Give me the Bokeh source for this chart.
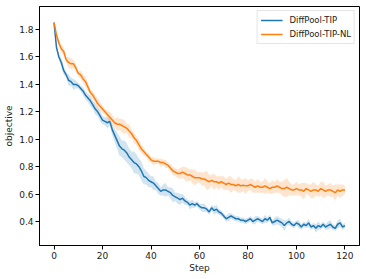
from bokeh.plotting import figure
from bokeh.models import ColumnDataSource, FixedTicker, Range1d, Legend, LegendItem
from bokeh.embed import file_html
from bokeh.resources import INLINE

steps = list(range(121))

tip_mean = [1.85, 1.67, 1.60, 1.56, 1.50, 1.47, 1.43, 1.42, 1.40, 1.40,
            1.39, 1.37, 1.35, 1.32, 1.30, 1.28, 1.25, 1.22, 1.20, 1.17,
            1.14, 1.13, 1.12, 1.13, 1.07, 1.03, 0.99, 0.95, 0.93, 0.92,
            0.90, 0.87, 0.85, 0.83, 0.82, 0.80, 0.77, 0.73, 0.72, 0.70,
            0.69, 0.68, 0.66, 0.64, 0.62, 0.63, 0.63, 0.62, 0.61, 0.59,
            0.58, 0.57, 0.56, 0.57, 0.55, 0.54, 0.52, 0.53, 0.52, 0.53,
            0.51, 0.50, 0.50, 0.49, 0.47, 0.50, 0.48, 0.49, 0.47, 0.46,
            0.44, 0.42, 0.43, 0.44, 0.43, 0.42, 0.42, 0.41, 0.41, 0.40,
            0.41, 0.42, 0.40, 0.41, 0.42, 0.41, 0.40, 0.42, 0.41, 0.43,
            0.39, 0.40, 0.41, 0.40, 0.39, 0.37, 0.39, 0.40, 0.38, 0.37,
            0.39, 0.38, 0.36, 0.38, 0.37, 0.39, 0.36, 0.37, 0.35, 0.37,
            0.36, 0.38, 0.36, 0.37, 0.38, 0.36, 0.35, 0.38, 0.39, 0.36,
            0.37]

tip_err = [0.01, 0.02, 0.02, 0.03, 0.03, 0.02, 0.04, 0.03, 0.04, 0.03,
           0.02, 0.02, 0.03, 0.03, 0.03, 0.04, 0.03, 0.04, 0.03, 0.04,
           0.03, 0.03, 0.04, 0.03, 0.04, 0.05, 0.06, 0.07, 0.06, 0.07,
           0.07, 0.06, 0.06, 0.08, 0.07, 0.06, 0.07, 0.06, 0.05, 0.05,
           0.04, 0.05, 0.03, 0.04, 0.03, 0.04, 0.05, 0.03, 0.04, 0.05,
           0.03, 0.04, 0.04, 0.03, 0.03, 0.02, 0.03, 0.03, 0.02, 0.02,
           0.02, 0.03, 0.03, 0.02, 0.02, 0.02, 0.03, 0.03, 0.02, 0.02,
           0.02, 0.02, 0.03, 0.02, 0.02, 0.02, 0.02, 0.02, 0.02, 0.02,
           0.02, 0.02, 0.02, 0.03, 0.02, 0.02, 0.02, 0.03, 0.02, 0.02,
           0.02, 0.03, 0.03, 0.03, 0.03, 0.04, 0.02, 0.03, 0.02, 0.02,
           0.02, 0.03, 0.02, 0.02, 0.02, 0.03, 0.02, 0.02, 0.03, 0.03,
           0.02, 0.02, 0.02, 0.03, 0.03, 0.02, 0.02, 0.03, 0.03, 0.02,
           0.02]

nl_mean = [1.85, 1.76, 1.70, 1.66, 1.64, 1.58, 1.56, 1.55, 1.55, 1.52,
           1.48, 1.47, 1.44, 1.42, 1.38, 1.34, 1.32, 1.29, 1.26, 1.24,
           1.22, 1.20, 1.18, 1.16, 1.14, 1.12, 1.11, 1.11, 1.10, 1.09,
           1.08, 1.06, 1.04, 1.01, 0.99, 0.96, 0.93, 0.91, 0.89, 0.87,
           0.85, 0.84, 0.84, 0.84, 0.83, 0.83, 0.82, 0.81, 0.79, 0.77,
           0.76, 0.75, 0.75, 0.76, 0.75, 0.74, 0.74, 0.73, 0.72, 0.72,
           0.72, 0.71, 0.71, 0.70, 0.69, 0.70, 0.69, 0.69, 0.68, 0.69,
           0.68, 0.67, 0.68, 0.67, 0.67, 0.66, 0.67, 0.66, 0.665, 0.66,
           0.66, 0.67, 0.66, 0.65, 0.66, 0.65, 0.65, 0.66, 0.65, 0.64,
           0.65, 0.65, 0.66, 0.65, 0.64, 0.64, 0.65, 0.64, 0.63, 0.63,
           0.64, 0.63, 0.63, 0.62, 0.64, 0.63, 0.62, 0.63, 0.63, 0.62,
           0.64, 0.63, 0.62, 0.63, 0.63, 0.62, 0.61, 0.63, 0.62, 0.63,
           0.63]

nl_err = [0.01, 0.02, 0.03, 0.03, 0.03, 0.02, 0.04, 0.04, 0.03, 0.03,
          0.02, 0.03, 0.03, 0.04, 0.03, 0.02, 0.03, 0.03, 0.04, 0.03,
          0.03, 0.02, 0.03, 0.04, 0.04, 0.03, 0.05, 0.04, 0.05, 0.05,
          0.03, 0.05, 0.03, 0.04, 0.03, 0.04, 0.03, 0.03, 0.02, 0.03,
          0.02, 0.03, 0.02, 0.02, 0.03, 0.02, 0.03, 0.02, 0.03, 0.03,
          0.03, 0.03, 0.04, 0.04, 0.05, 0.05, 0.04, 0.05, 0.06, 0.04,
          0.04, 0.05, 0.05, 0.07, 0.05, 0.04, 0.06, 0.04, 0.05, 0.04,
          0.05, 0.04, 0.05, 0.06, 0.04, 0.04, 0.06, 0.05, 0.04, 0.06,
          0.04, 0.04, 0.05, 0.04, 0.05, 0.04, 0.04, 0.06, 0.04, 0.04,
          0.05, 0.04, 0.05, 0.04, 0.05, 0.06, 0.07, 0.05, 0.04, 0.04,
          0.05, 0.04, 0.05, 0.06, 0.04, 0.04, 0.05, 0.06, 0.04, 0.04,
          0.05, 0.06, 0.04, 0.04, 0.05, 0.04, 0.06, 0.04, 0.05, 0.04,
          0.03]

x_ticks = [0, 20, 40, 60, 80, 100, 120]
y_ticks = [0.4, 0.6, 0.8, 1.0, 1.2, 1.4, 1.6, 1.8]

series_names = ["DiffPool-TIP", "DiffPool-TIP-NL"]
colors = ["#1f77b4", "#ff7f0e"]

p = figure(width=366, height=279, output_backend="svg", toolbar_location=None,
           x_range=Range1d(-6, 126), y_range=Range1d(0.225, 1.968),
           min_border_left=39, min_border_right=7, min_border_top=6,
           min_border_bottom=34)

FONT = "DejaVu Sans"
items = []
for mean, err, col, name in [(tip_mean, tip_err, colors[0], series_names[0]),
                              (nl_mean, nl_err, colors[1], series_names[1])]:
    src = ColumnDataSource(dict(
        x=steps, y=mean,
        lo=[m - e for m, e in zip(mean, err)],
        hi=[m + e for m, e in zip(mean, err)]))
    p.varea(x="x", y1="lo", y2="hi", source=src, fill_color=col, fill_alpha=0.2)
    r = p.line(x="x", y="y", source=src, line_color=col, line_width=1.5)
    items.append(LegendItem(label=name, renderers=[r]))

legend = Legend(items=items, location="top_right")
legend.label_text_font = FONT
legend.label_text_font_size = "8.5px"
legend.label_text_color = "#222222"
legend.glyph_width = 22
legend.glyph_height = 12
legend.label_height = 12
legend.spacing = 2
legend.padding = 3
legend.margin = 4
legend.border_line_color = "#cccccc"
legend.border_line_width = 1
legend.background_fill_alpha = 0.8
legend.label_standoff = 7
p.add_layout(legend)

p.xgrid.visible = False
p.ygrid.visible = False
p.outline_line_color = "black"
p.outline_line_width = 1

p.xaxis.ticker = FixedTicker(ticks=x_ticks)
p.yaxis.ticker = FixedTicker(ticks=y_ticks)
p.xaxis.axis_label = "Step"
p.yaxis.axis_label = "objective"
for ax in [p.xaxis[0], p.yaxis[0]]:
    ax.axis_line_color = "black"
    ax.major_tick_line_color = "black"
    ax.major_tick_out = 4
    ax.major_tick_in = 0
    ax.minor_tick_line_color = None
    ax.major_label_text_font = FONT
    ax.major_label_text_font_size = "9px"
    ax.major_label_text_color = "#222222"
    ax.axis_label_text_font = FONT
    ax.axis_label_text_font_size = "9px"
    ax.axis_label_text_font_style = "normal"
    ax.axis_label_text_color = "#222222"
    ax.major_label_standoff = 2
    ax.axis_label_standoff = 1
p.yaxis.axis_label_standoff = 2
p.yaxis.major_label_overrides = {v: f"{v:.1f}" for v in y_ticks}

open("out.html", "w").write(file_html(p, INLINE))
